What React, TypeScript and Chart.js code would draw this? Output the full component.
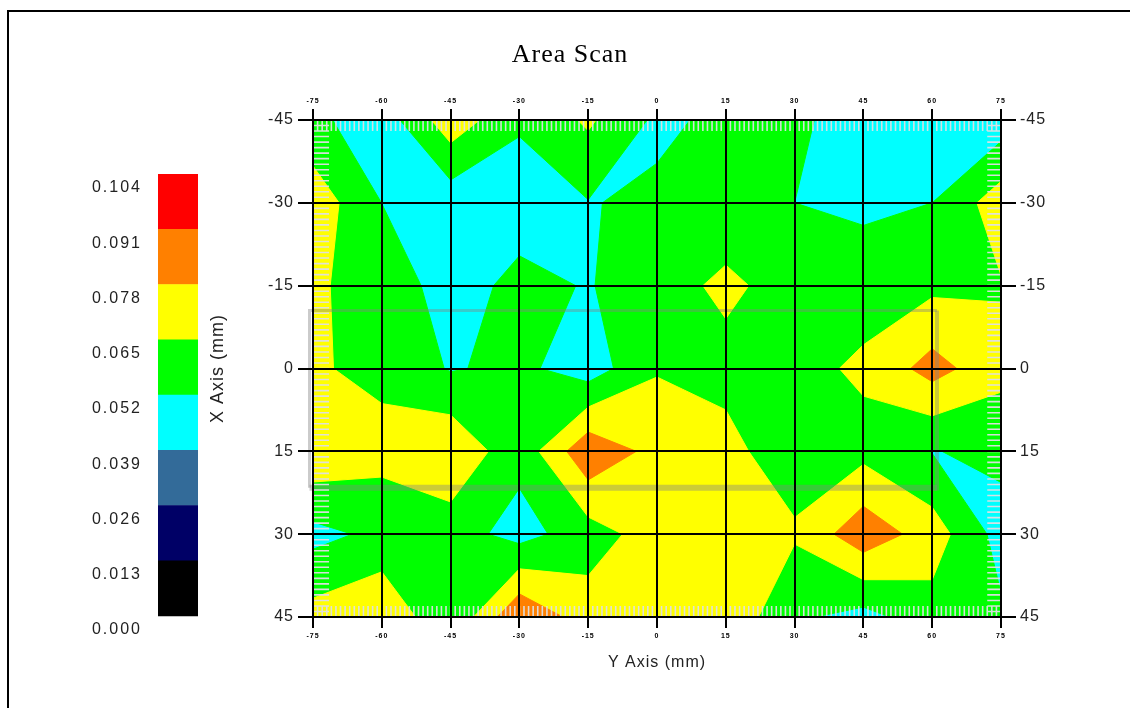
import React, { useEffect, useRef } from "react";
import { Chart, registerables } from "chart.js";

Chart.register(...registerables);

const xNodes = [-75, -60, -45, -30, -15, 0, 15, 30, 45, 60, 75];
const yNodes = [-45, -30, -15, 0, 15, 30, 45];

const rowM45 = [0.068, 0.0575, 0.086, 0.067, 0.08, 0.0625, 0.0677, 0.067, 0.06, 0.06, 0.058];
const rowM30 = [0.086, 0.0649, 0.057, 0.057, 0.0644, 0.0673, 0.072, 0.065, 0.062, 0.065, 0.085];
const rowM15 = [0.079, 0.075, 0.0575, 0.0695, 0.064, 0.074, 0.08, 0.074, 0.073, 0.075, 0.077];
const row0 = [0.0794, 0.0747, 0.064, 0.068, 0.058, 0.077, 0.075, 0.0743, 0.08, 0.096, 0.082];
const row15 = [0.088, 0.0825, 0.089, 0.069, 0.101, 0.0867, 0.081, 0.072, 0.074, 0.0645, 0.068];
const row30 = [0.061, 0.068, 0.071, 0.06, 0.072, 0.084, 0.088, 0.0795, 0.0996, 0.0845, 0.06];
const row45 = [0.083, 0.09, 0.0655, 0.103, 0.084, 0.082, 0.088, 0.067, 0.0603, 0.0727, 0.067];
const grid = [rowM45, rowM30, rowM15, row0, row15, row30, row45];

const legendTicks = [0, 0.013, 0.026, 0.039, 0.052, 0.065, 0.078, 0.091, 0.104];
const legendBands = [0.013, 0.013, 0.013, 0.013, 0.013, 0.013, 0.013, 0.013];
const legendColors = ["#000000", "#000066", "#336b99", "#00ffff", "#00ff00", "#ffff00", "#ff8000", "#ff0000"];

const xTicks = [-75, -60, -45, -30, -15, 0, 15, 30, 45, 60, 75];
const yTicks = [-45, -30, -15, 0, 15, 30, 45];

const overlayX = [-75.76, 61.05];
const overlayY = [-10.5, 21.6];

const labelFont = "'Liberation Sans', Arial, sans-serif";

type Pt = { x: number; y: number };
type Corner = { x: number; y: number; v: number };

const crossing = (a: Corner, b: Corner, level: number): Pt => {
  const f = (level - a.v) / (b.v - a.v);
  return { x: a.x + f * (b.x - a.x), y: a.y + f * (b.y - a.y) };
};

function clipCell(corners: Corner[], level: number): Pt[][] {
  const high = corners.map((c) => c.v >= level);
  if (high[0] === high[2] && high[1] === high[3] && high[0] !== high[1]) {
    // saddle: the low corners stay joined, each high corner is cut off on its own
    const polys: Pt[][] = [];
    corners.forEach((c, k) => {
      if (!high[k]) return;
      const prev = corners[(k + 3) % 4];
      const next = corners[(k + 1) % 4];
      polys.push([crossing(prev, c, level), { x: c.x, y: c.y }, crossing(c, next, level)]);
    });
    return polys;
  }
  const out: Pt[] = [];
  for (let k = 0; k < corners.length; k++) {
    const a = corners[k];
    const b = corners[(k + 1) % corners.length];
    if (a.v >= level) out.push({ x: a.x, y: a.y });
    if (a.v >= level !== b.v >= level) out.push(crossing(a, b, level));
  }
  return out.length >= 3 ? [out] : [];
}

function contourDatasets(): any[] {
  const sets: any[] = [];
  for (let l = 0; l < legendColors.length; l++) {
    const level = legendTicks[l + 1];
    const color = legendColors[l];
    for (let j = 0; j < yNodes.length - 1; j++) {
      for (let i = 0; i < xNodes.length - 1; i++) {
        const polys = clipCell(
          [
            { x: xNodes[i], y: yNodes[j], v: grid[j][i] },
            { x: xNodes[i + 1], y: yNodes[j], v: grid[j][i + 1] },
            { x: xNodes[i + 1], y: yNodes[j + 1], v: grid[j + 1][i + 1] },
            { x: xNodes[i], y: yNodes[j + 1], v: grid[j + 1][i] },
          ],
          level
        );
        for (const poly of polys) {
          sets.push({
            data: [...poly, poly[0]],
            showLine: true,
            fill: "shape",
            backgroundColor: color,
            borderColor: color,
            borderWidth: 1,
            pointRadius: 0,
            tension: 0,
          });
        }
      }
    }
  }
  return sets;
}

function minorTicks(): any[] {
  const pts: Pt[] = [];
  const seg = (x0: number, y0: number, x1: number, y1: number) => {
    pts.push({ x: x0, y: y0 }, { x: x1, y: y1 }, { x: NaN, y: NaN });
  };
  for (let v = -75; v <= 75; v++) {
    seg(v, -45, v, -43);
    seg(v, 45, v, 43);
  }
  for (let v = -45; v <= 45; v++) {
    seg(-75, v, -71.5, v);
    seg(75, v, 72, v);
  }
  return [
    {
      data: pts,
      showLine: true,
      spanGaps: false,
      fill: false,
      borderColor: "rgba(222,222,228,0.95)",
      borderWidth: 1.6,
      pointRadius: 0,
    },
  ];
}

function overlayRect(): any[] {
  const [x0, x1] = overlayX;
  const [y0, y1] = overlayY;
  const base = { showLine: true, fill: false, pointRadius: 0, clip: false, borderColor: "rgba(130,130,130,0.42)" };
  return [
    { ...base, borderWidth: 3, data: [{ x: x1, y: y0 }, { x: x0, y: y0 }, { x: x0, y: y1 }] },
    { ...base, borderWidth: 4, data: [{ x: x1, y: y0 }, { x: x1, y: y1 + 0.5 }] },
    { ...base, borderWidth: 6, data: [{ x: x0, y: y1 }, { x: x1, y: y1 }] },
  ];
}

const fixedSize = (dim: "width" | "height", size: number) => (s: any) => {
  s[dim] = size;
};

const spacing = (px: string) => ({
  id: "textSpacing",
  beforeUpdate(chart: any) {
    chart.ctx.letterSpacing = px;
  },
  beforeDraw(chart: any) {
    chart.ctx.letterSpacing = px;
  },
});

function axisCommon(ticks: number[], min: number, max: number, position: string, extra: any) {
  const horizontal = position === "top" || position === "bottom";
  return {
    type: "linear",
    position,
    min,
    max,
    afterBuildTicks: (s: any) => {
      s.ticks = ticks.map((value) => ({ value }));
    },
    border: { display: true, color: "#000", width: 2, z: 1 },
    ticks: {
      autoSkip: false,
      maxRotation: 0,
      minRotation: 0,
      color: horizontal ? "#000" : "#222",
      font: horizontal ? { family: labelFont, size: 7, weight: "bold" } : { family: labelFont, size: 16 },
      padding: 4,
      callback: (v: any) => String(v),
    },
    ...extra,
  };
}

export default function App() {
  const mainRef = useRef<HTMLCanvasElement>(null);
  const legendRef = useRef<HTMLCanvasElement>(null);

  useEffect(() => {
    const layered = [...contourDatasets(), ...overlayRect(), ...minorTicks()].reverse();
    const main = new Chart(mainRef.current as HTMLCanvasElement, {
      type: "scatter",
      data: { datasets: layered },
      plugins: [spacing("1px")],
      options: {
        animation: false,
        responsive: false,
        layout: { padding: { left: 0, right: 0, top: 0, bottom: 36 } },
        plugins: {
          legend: { display: false },
          tooltip: { enabled: false },
          title: {
            display: true,
            text: "Area Scan",
            color: "#000",
            font: { family: "'Liberation Serif', serif", size: 26, weight: "normal" },
            padding: { top: 40, bottom: 0 },
          },
        },
        scales: {
          x: axisCommon(xTicks, -75, 75, "bottom", {
            afterFit: fixedSize("height", 55),
            grid: { color: "#000", lineWidth: 2, tickLength: 11, z: 1 },
            title: { display: true, text: "Y Axis (mm)", color: "#222", font: { family: labelFont, size: 16 }, padding: 0 },
          }),
          xTop: axisCommon(xTicks, -75, 75, "top", {
            afterFit: (s: any) => {
              s.height = 120 - 40 - 31.2;
            },
            grid: { color: "#000", lineWidth: 2, tickLength: 11, drawOnChartArea: false, z: 1 },
          }),
          y: axisCommon(yTicks, -45, 45, "left", {
            reverse: true,
            afterFit: fixedSize("width", 313),
            grid: { color: "#000", lineWidth: 2, tickLength: 15, z: 1 },
            title: { display: true, text: "X Axis (mm)", color: "#222", font: { family: labelFont, size: 18 }, padding: { top: 207, bottom: 0 } },
          }),
          yRight: axisCommon(yTicks, -45, 45, "right", {
            reverse: true,
            afterFit: fixedSize("width", 139),
            grid: { color: "#000", lineWidth: 2, tickLength: 15, drawOnChartArea: false, z: 1 },
          }),
        },
      } as any,
    });

    const legend = new Chart(legendRef.current as HTMLCanvasElement, {
      type: "bar",
      data: {
        labels: [""],
        datasets: legendBands.map((value, i) => ({
          data: [value],
          backgroundColor: legendColors[i],
          yAxisID: "y",
          categoryPercentage: 1,
          barPercentage: 1,
        })),
      },
      plugins: [spacing("2px")],
      options: {
        animation: false,
        responsive: false,
        layout: { padding: { top: 174, bottom: 78, left: 0, right: 0 } },
        plugins: { legend: { display: false }, tooltip: { enabled: false }, title: { display: false } },
        scales: {
          x: { stacked: true, display: false },
          y: { stacked: true, display: false, min: -0.003294, max: 0.104 },
          yLabels: {
            type: "linear",
            position: "left",
            min: 0,
            max: 0.10729,
            afterBuildTicks: (s: any) => {
              s.ticks = legendTicks.map((value) => ({ value }));
            },
            afterFit: fixedSize("width", 158),
            grid: { display: false },
            border: { display: false },
            ticks: {
              autoSkip: false,
              color: "#222",
              padding: 8,
              font: { family: labelFont, size: 16 },
              callback: (v: any) => Number(v).toFixed(3),
            },
          },
        },
      } as any,
    });

    return () => {
      main.destroy();
      legend.destroy();
    };
  }, []);

  return (
    <div style={{ position: "fixed", left: 0, top: 0, width: 1130, height: 708, background: "#fff", overflow: "hidden" }}>
      <div style={{ position: "absolute", left: 7, top: 10, width: 1130, height: 708, borderLeft: "2px solid #000", borderTop: "2px solid #000" }} />
      <canvas ref={mainRef} width={1140} height={708} style={{ position: "absolute", left: 0, top: 0, filter: "blur(0.35px)" }} />
      <canvas ref={legendRef} width={198} height={708} style={{ position: "absolute", left: 0, top: 0, filter: "blur(0.35px)" }} />
    </div>
  );
}
